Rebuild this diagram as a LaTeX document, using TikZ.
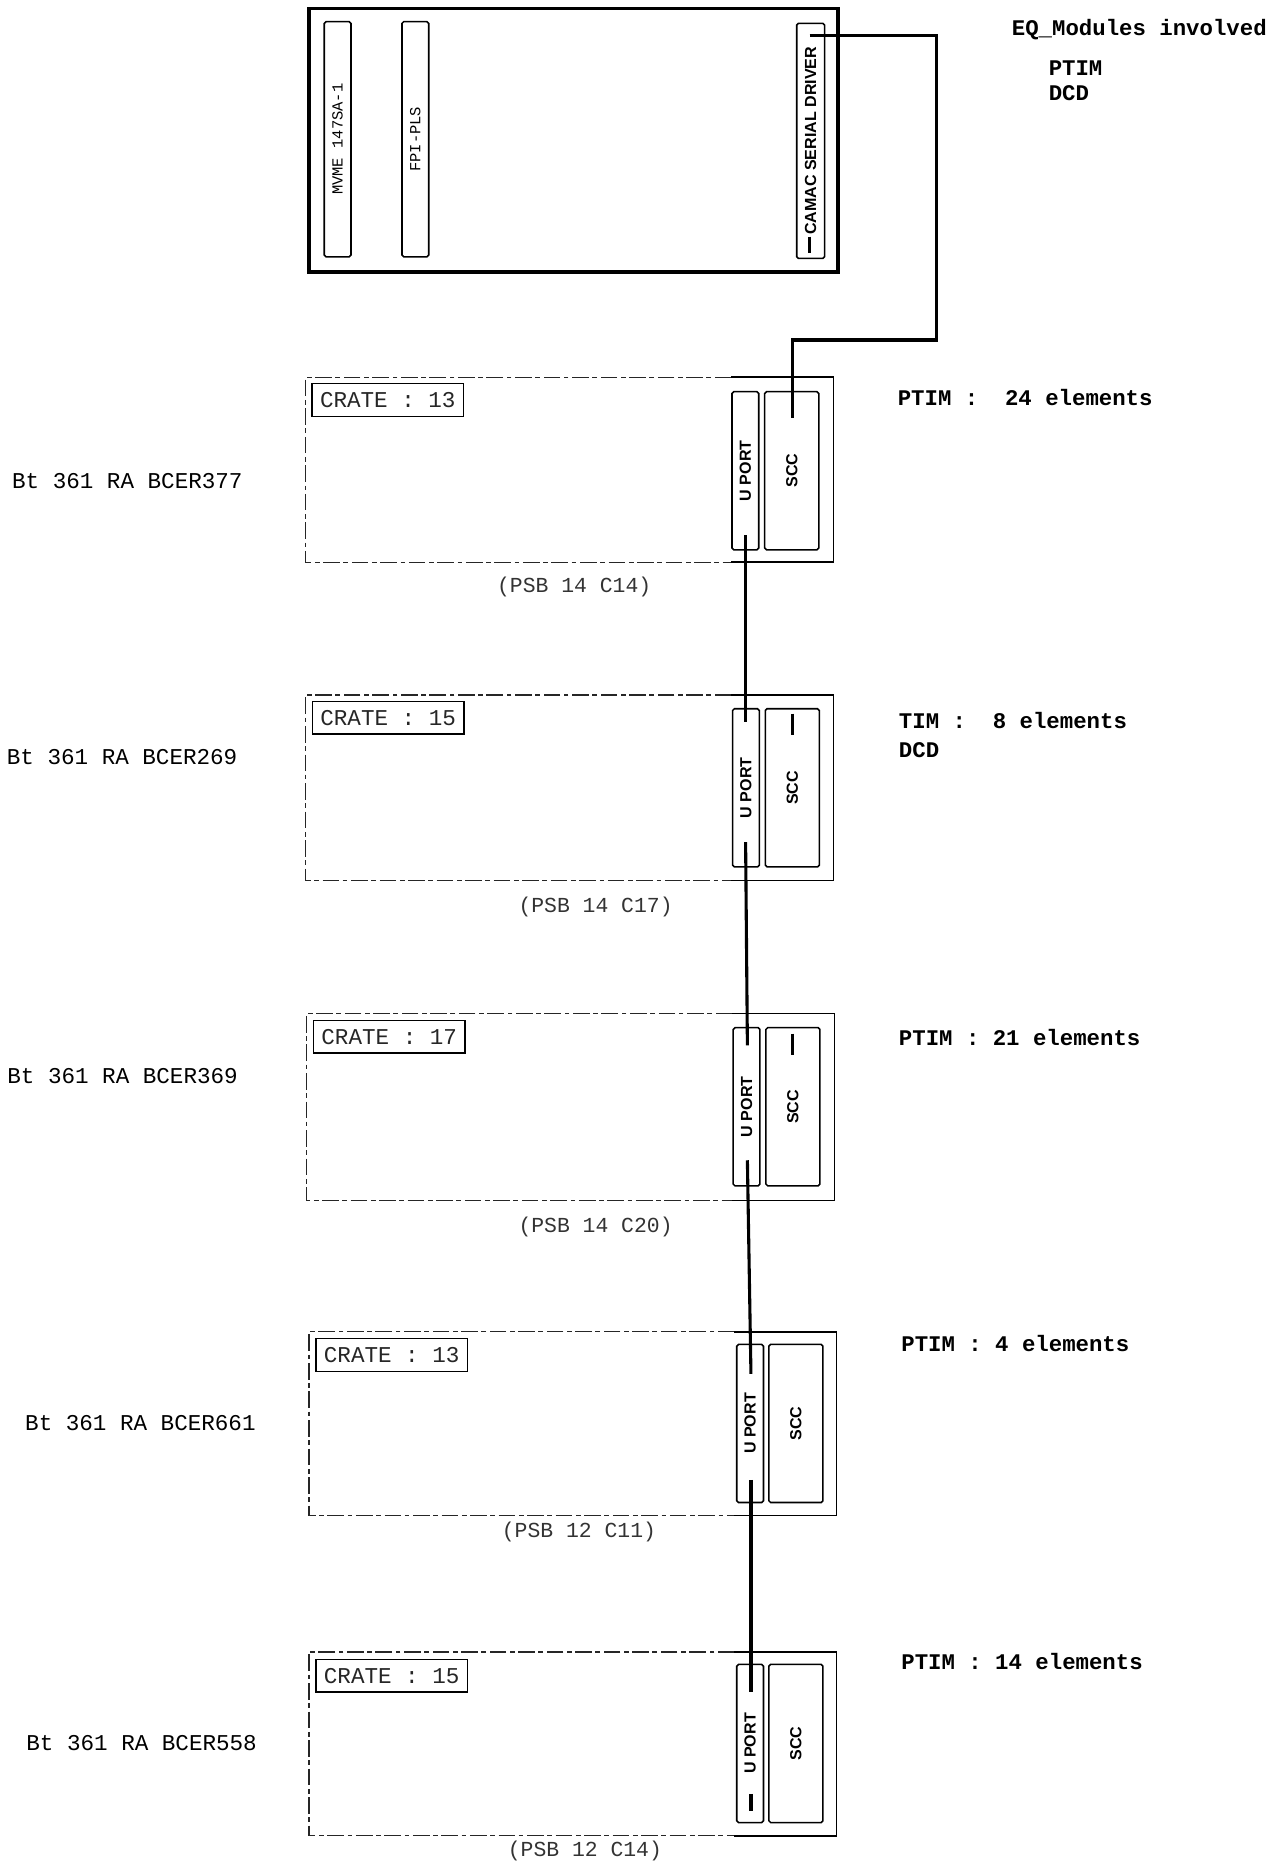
\documentclass[tikz,border=0pt]{standalone}
\usepackage{fontspec}
\usepackage{graphicx}
\setmonofont{Liberation Mono}
\newfontfamily\cardfont{Liberation Sans}
\usetikzlibrary{calc}
\begin{document}
\begin{tikzpicture}[x=1pt,y=-1pt,
  lab/.style={font=\fontsize{19}{22}\selectfont\ttfamily, anchor=west, inner sep=0pt},
  blab/.style={font=\fontsize{18.8}{22}\selectfont\ttfamily\bfseries, anchor=west, inner sep=0pt},
  psb/.style={font=\fontsize{18}{22}\selectfont\ttfamily, text=black!80, inner sep=0pt},
  cratelab/.style={draw, line width=1.1pt, minimum width=127.5pt, minimum height=27.5pt, inner sep=0pt,
    font=\fontsize{19}{22}\selectfont\ttfamily, text=black!85},
  card/.style={draw, line width=1.3pt, rounded corners=1.5pt, inner sep=0pt,
    font=\fontsize{13.5}{15}\selectfont\cardfont\bfseries},
  upcard/.style={card, minimum width=22.5pt, minimum height=133pt},
  scccard/.style={card, minimum width=45.5pt, minimum height=133pt},
  vmecard/.style={card, minimum width=22.5pt, minimum height=197.8pt,
    font=\fontsize{13}{14}\selectfont\ttfamily},
  cratebox/.style={minimum width=443.5pt, inner sep=0pt},
  crdash/.style={line width=0.9pt, black!85, dash pattern=on 14pt off 3pt on 4pt off 3pt},
  crsolid/.style={line width=1.2pt},
  wire/.style={line width=2.6pt, line join=miter},
  tick/.style={line width=2.6pt}
]
\useasboundingbox (0,0) rectangle (1083,1568);

% ---------------- top VME crate ----------------
\node[draw, line width=3pt, minimum width=444.7pt, minimum height=221.6pt, inner sep=0pt] (vme) at (482.35,117.8) {};
\node[vmecard] (mvme) at (284,117.1) {\rotatebox{90}{MVME 147SA-1}};
\node[vmecard] (fpi) at (349.4,117.1) {\rotatebox{90}{FPI-PLS}};
\node[card, minimum width=23.4pt, minimum height=197.8pt] (camac) at (681.9,118.5) {\rotatebox{90}{CAMAC SERIAL DRIVER}};
\draw[tick] (680.8,199) -- (680.8,213);

\node[blab] (eq) at (851,25) {EQ\_Modules involved};
\node[blab] (eq1) at (882,57) {PTIM};
\node[blab] (eq2) at (882,78) {DCD};

% ---------------- crates ----------------
% crate 1
\node[cratebox, minimum height=155.1pt] (cr1) at (479.25,395.05) {};
\node[cratelab] (cl1) at (326.2,336.5) {CRATE : 13};
\node[upcard] (up1) at (627,396) {\rotatebox{90}{U PORT}};
\node[scccard] (scc1) at (666,396) {\rotatebox{90}{SCC}};
\node[psb] (psb1) at (483,494) {(PSB 14 C14)};
\node[lab] (bt1) at (10,405) {Bt 361 RA BCER377};
\node[blab] (r1) at (755,334) {PTIM :~ 24 elements};

% crate 2
\node[cratebox, minimum height=155.7pt] (cr2) at (479.25,662.65) {};
\node[cratelab] (cl2) at (326.5,603.7) {CRATE : 15};
\node[upcard] (up2) at (627.5,662.7) {\rotatebox{90}{U PORT}};
\node[scccard] (scc2) at (666.5,662.7) {\rotatebox{90}{SCC}};
\draw[tick] (666.3,600.2) -- (666.3,618.5);
\node[psb] (psb2) at (501,763) {(PSB 14 C17)};
\node[lab] (bt2) at (5.6,637) {Bt 361 RA BCER269};
\node[blab] (r2) at (756,606) {TIM :~ 8 elements};
\node[blab] (r2b) at (756,631) {DCD};

% crate 3
\node[cratebox, minimum height=156.8pt] (cr3) at (480,931.1) {};
\node[cratelab] (cl3) at (327.4,872) {CRATE : 17};
\node[upcard] (up3) at (628,931) {\rotatebox{90}{U PORT}};
\node[scccard] (scc3) at (667,931) {\rotatebox{90}{SCC}};
\draw[tick] (667,869.5) -- (667,887.8);
\node[psb] (psb3) at (501,1032) {(PSB 14 C20)};
\node[lab] (bt3) at (6,905) {Bt 361 RA BCER369};
\node[blab] (r3) at (756,873) {PTIM : 21 elements};

% crate 4
\node[cratebox, minimum height=154.2pt] (cr4) at (481.9,1197.7) {};
\node[cratelab] (cl4) at (329.5,1139.8) {CRATE : 13};
\node[upcard] (up4) at (631,1197.4) {\rotatebox{90}{U PORT}};
\node[scccard] (scc4) at (669.5,1197.4) {\rotatebox{90}{SCC}};
\node[psb] (psb4) at (487,1289) {(PSB 12 C11)};
\node[lab] (bt4) at (21,1197) {Bt 361 RA BCER661};
\node[blab] (r4) at (758,1130) {PTIM : 4 elements};

% crate 5
\node[cratebox, minimum height=154.3pt] (cr5) at (481.9,1467) {};
\node[cratelab] (cl5) at (329.5,1409.5) {CRATE : 15};
\node[upcard] (up5) at (631,1466.6) {\rotatebox{90}{U PORT}};
\node[scccard] (scc5) at (669.5,1466.6) {\rotatebox{90}{SCC}};
\draw[tick] (631.7,1509) -- (631.7,1523);
\node[psb] (psb5) at (492,1557) {(PSB 12 C14)};
\node[lab] (bt5) at (22,1466) {Bt 361 RA BCER558};
\node[blab] (r5) at (758,1398) {PTIM : 14 elements};

% crate outlines: dash-dot on the left part, solid round the cards
\foreach \c in {cr1,cr2,cr3,cr4,cr5}{
  \draw[crdash] ($(\c.north east)+(-86,0)$) -- (\c.north west) -- (\c.south west) -- ($(\c.south east)+(-86,0)$);
  \draw[crsolid] ($(\c.north east)+(-86,0)$) -- (\c.north east) -- (\c.south east) -- ($(\c.south east)+(-86,0)$);
}

% ---------------- connectors ----------------
\coordinate (drvA) at (681,30);
\coordinate (bendA) at (787.7,30);
\coordinate (bendB) at (787.7,286);
\coordinate (bendC) at (666.3,286);
\coordinate (sccA) at (666.3,352);
\draw[wire] (drvA) -- (bendA) -- (bendB) -- (bendC) -- (sccA);

\coordinate (u1b) at (627.2,450.2);
\coordinate (u2t) at (627.2,607.3);
\coordinate (u2b) at (627.2,708.3);
\coordinate (u3t) at (628.7,879.3);
\coordinate (u3b) at (628.7,976);
\coordinate (u4t) at (631.7,1155.6);
\coordinate (u4b) at (631.7,1244.8);
\coordinate (u5t) at (631.7,1423.5);
\draw[wire] (u1b) -- (u2t);
\draw[wire] (u2b) -- (u3t);
\draw[wire] (u3b) -- (u4t);
\draw[wire] (u4b) -- (u5t);
\end{tikzpicture}
\end{document}
